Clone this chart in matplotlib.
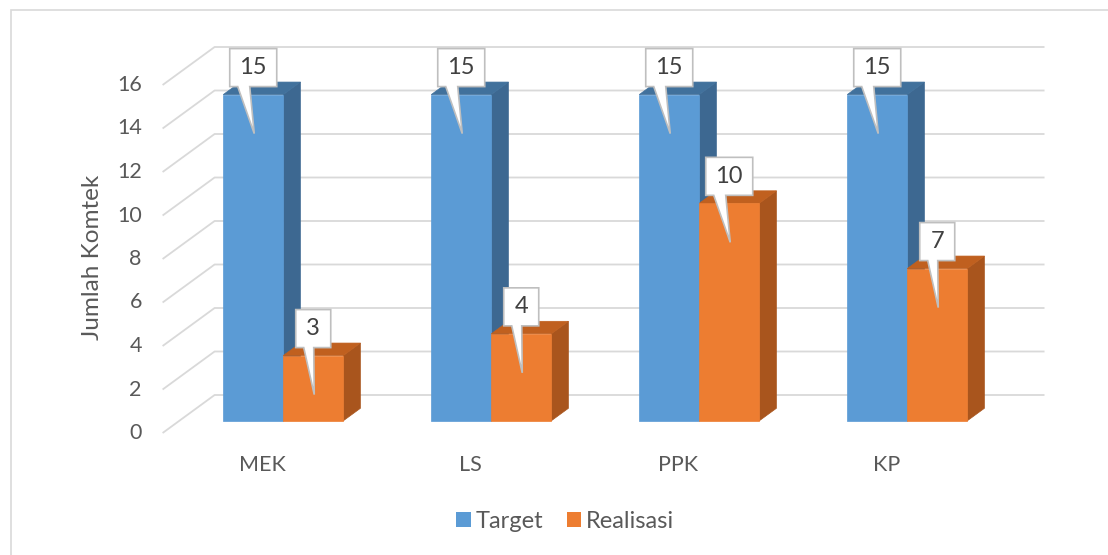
import matplotlib
matplotlib.use('Agg')
import matplotlib.pyplot as plt
from matplotlib.patches import Polygon, Rectangle, Patch

plt.rcParams['font.family'] = ['Lato', 'DejaVu Sans']

categories = ['MEK', 'LS', 'PPK', 'KP']
target = [15, 15, 15, 15]
realisasi = [3, 4, 10, 7]
yticks = [0, 2, 4, 6, 8, 10, 12, 14, 16]

W, H = 1108, 555
fig = plt.figure(figsize=(W / 100, H / 100), dpi=100)
ax = fig.add_axes([0, 0, 1, 1])
# data units: 1 category = 208 px, 1 value unit = 21.75 px
x0px, y0px, sx, sy = 266.6, 433, 208, 21.75
ax.set_xlim(-x0px / sx, (W - x0px) / sx)
ax.set_ylim((y0px - H) / sy, y0px / sy)
ax.axis('off')

DX, DY = 52 / sx, 38 / sy   # full depth offset in data units
px, py = 1 / sx, 1 / sy      # one pixel in data units


def proj(x, y, d):
    return (x + DX * d, y + DY * d)


text_col = '#595959'
grid_col = '#d9d9d9'

# grid: diagonal floor edge + back wall line
for v in yticks:
    ax.plot(*zip(proj(-0.5, v, 0), proj(-0.5, v, 1), proj(3.49, v, 1)),
            color=grid_col, lw=1.3, zorder=1, solid_capstyle='butt')
    ax.text(-0.6, v, str(v), ha='right', va='center', fontsize=15.5, color=text_col)

ax.text(-0.835, 8.07, 'Jumlah Komtek', rotation=90, ha='center', va='center',
        fontsize=17.5, color=text_col)

bw = 60 / sx
d0, d1 = 0.32, 0.65


def bar3d(x0, h, front, top, side):
    x1 = x0 + bw
    faces = [
        ([proj(x1, 0, d0), proj(x1, 0, d1), proj(x1, h, d1), proj(x1, h, d0)], side),
        ([proj(x0, h, d0), proj(x1, h, d0), proj(x1, h, d1), proj(x0, h, d1)], top),
        ([proj(x0, 0, d0), proj(x1, 0, d0), proj(x1, h, d0), proj(x0, h, d0)], front),
    ]
    for pts, c in faces:
        ax.add_patch(Polygon(pts, closed=True, fc=c, ec=c, lw=0.5, zorder=3))


def callout(x, h, label):
    cx, ty = proj(x, h, d0)
    bwid = 47 if len(label) > 1 else 35
    L, R = cx - bwid / 2 * px, cx + bwid / 2 * px
    B = ty + 8 * py
    T = B + 38 * py
    xa, xb = L + 8 * px, L + (20 if len(label) > 1 else 18) * px
    tip = (cx + 1 * px, ty - 39 * py)
    pts = [(L, B), (xa, B), tip, (xb, B), (R, B), (R, T), (L, T)]
    ax.add_patch(Polygon(pts, closed=True, fc='white', ec='#bfbfbf', lw=1.2, zorder=5))
    ax.text(cx, (B + T) / 2, label, ha='center', va='center', fontsize=17,
            color='#404040', zorder=6)


for i, (t, r) in enumerate(zip(target, realisasi)):
    bar3d(i - bw, t, '#5b9bd5', '#41719c', '#3d6891')
    bar3d(i, r, '#ed7d31', '#c0601f', '#a9551d')
for i, (t, r) in enumerate(zip(target, realisasi)):
    callout(i - bw / 2, t, str(t))
    callout(i + bw / 2, r, str(r))
    ax.text(i - 0.02, (y0px - 465) / sy, categories[i], ha='center', va='center',
            fontsize=15.5, color=text_col)

handles = [Patch(fc='#5b9bd5', label='Target'), Patch(fc='#ed7d31', label='Realisasi')]
fig.legend(handles=handles, loc='center', bbox_to_anchor=(565 / W, 1 - 521 / H),
           ncol=2, frameon=False, fontsize=17, handlelength=0.6, handleheight=0.6,
           handletextpad=0.2, columnspacing=1.0, labelcolor=text_col)

fig.patches.append(Rectangle((11 / W, -0.05), 1.1, 1.05 - 10 / H, transform=fig.transFigure,
                             fill=False, ec='#d9d9d9', lw=1.2))

fig.savefig('out.png', dpi=100)
